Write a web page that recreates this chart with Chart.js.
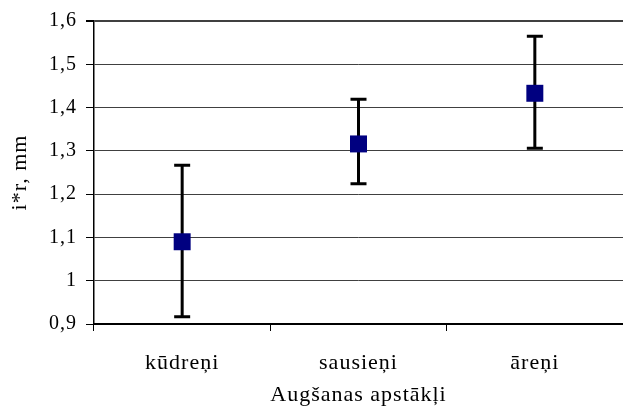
<!DOCTYPE html>
<html>
<head>
<meta charset="utf-8">
<script src="https://cdn.jsdelivr.net/npm/chart.js@4/dist/chart.umd.min.js"></script>
<style>
  html, body { margin: 0; padding: 0; background: #fff; }
  #wrap { width: 623px; height: 418px; }
</style>
</head>
<body>
<div id="wrap"><canvas id="c" width="623" height="418"></canvas></div>
<script>
// Growing conditions and the mean i*r value with its interval bounds
const categories = ['kūdreņi', 'sausieņi', 'āreņi'];
const means = [1.09, 1.316, 1.433];
const upperBounds = [1.267, 1.419, 1.565];
const lowerBounds = [0.917, 1.224, 1.306];
const yTickLabels = ['0,9', '1', '1,1', '1,2', '1,3', '1,4', '1,5', '1,6'];

const serif = '"Liberation Serif", "Times New Roman", serif';

// Slightly loose tracking for all chart text
const trackingPlugin = {
  id: 'tracking',
  beforeUpdate(chart) { chart.ctx.letterSpacing = '1px'; },
  beforeLayout(chart) { chart.ctx.letterSpacing = '1px'; },
  beforeDraw(chart) { chart.ctx.letterSpacing = '1px'; }
};

// Vertical whiskers with caps, drawn beneath the markers
const errorBarsPlugin = {
  id: 'errorBars',
  beforeDatasetsDraw(chart) {
    const { ctx, scales: { x, y } } = chart;
    ctx.save();
    ctx.strokeStyle = '#000';
    ctx.lineWidth = 3;
    ctx.lineCap = 'butt';
    const half = 8;
    categories.forEach((cat, i) => {
      const px = x.getPixelForValue(i);
      const yTop = y.getPixelForValue(upperBounds[i]);
      const yBot = y.getPixelForValue(lowerBounds[i]);
      ctx.beginPath();
      ctx.moveTo(px, yTop);
      ctx.lineTo(px, yBot);
      ctx.moveTo(px - half, yTop);
      ctx.lineTo(px + half, yTop);
      ctx.moveTo(px - half, yBot);
      ctx.lineTo(px + half, yBot);
      ctx.stroke();
    });
    ctx.restore();
  }
};

new Chart(document.getElementById('c'), {
  type: 'line',
  data: {
    labels: categories,
    datasets: [{
      data: means,
      showLine: false,
      pointStyle: 'rect',
      pointRadius: 12,
      pointHoverRadius: 12,
      backgroundColor: '#000080',
      borderColor: '#000080',
      borderWidth: 0
    }]
  },
  options: {
    responsive: false,
    animation: false,
    events: [],
    layout: { autoPadding: false, padding: { left: 0, right: 0, top: 20, bottom: 0 } },
    plugins: {
      legend: { display: false },
      tooltip: { enabled: false }
    },
    scales: {
      x: {
        type: 'category',
        offset: true,
        grid: {
          offset: true,
          drawOnChartArea: false,
          drawTicks: true,
          tickLength: 7,
          tickColor: '#000'
        },
        border: { display: true, color: '#000', width: 2 },
        ticks: {
          color: '#000',
          font: { family: serif, size: 22 },
          padding: 19,
          maxRotation: 0
        },
        title: {
          display: true,
          text: 'Augšanas apstākļi',
          color: '#000',
          font: { family: serif, size: 22 },
          padding: { top: 6, bottom: 10 }
        },
        afterFit(scale) { scale.height = 94; }
      },
      y: {
        min: 0.9,
        max: 1.6,
        ticks: {
          stepSize: 0.1,
          color: '#000',
          font: { family: serif, size: 20 },
          padding: 9,
          callback: (v, i) => yTickLabels[i]
        },
        grid: {
          color: '#404040',
          lineWidth: (c) => (c.tick && Math.abs(c.tick.value - 1.6) < 1e-6 ? 2 : 1),
          tickLength: 8,
          tickColor: '#000'
        },
        border: { display: true, color: '#000', width: 1.5 },
        title: {
          display: true,
          text: 'i*r, mm',
          color: '#000',
          font: { family: serif, size: 22 },
          padding: { top: 7, bottom: 10 }
        },
        afterFit(scale) { scale.width = 94; }
      }
    }
  },
  plugins: [trackingPlugin, errorBarsPlugin]
});
</script>
</body>
</html>
